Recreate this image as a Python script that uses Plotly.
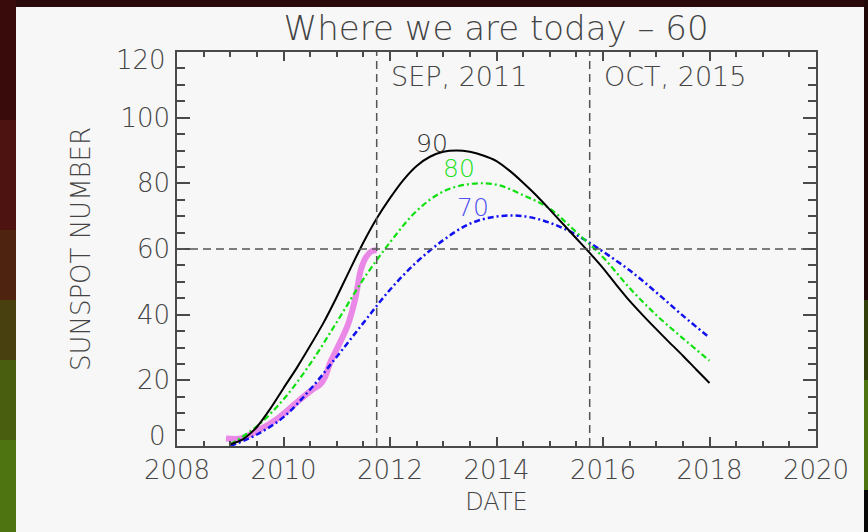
import plotly.graph_objects as go

# ---------------- data ----------------
black_x = [2009.0, 2009.25, 2009.5, 2009.75, 2010.0, 2010.25, 2010.5, 2010.75, 2011.0, 2011.25,
           2011.5, 2011.75, 2012.0, 2012.25, 2012.5, 2012.75, 2013.0, 2013.25, 2013.5, 2013.75,
           2014.0, 2014.25, 2014.5, 2014.75, 2015.0, 2015.25, 2015.5, 2015.75, 2016.0, 2016.25,
           2016.5, 2016.75, 2017.0, 2017.25, 2017.5, 2017.75, 2018.0]
black_y = [0.5, 2.2, 5.8, 11.3, 17.6, 23.8, 30.5, 37.5, 45.4, 53.8,
           62.0, 69.3, 75.5, 81.0, 85.3, 88.1, 89.6, 90.0, 89.6, 88.5,
           86.8, 83.8, 80.2, 76.3, 72.0, 67.6, 63.2, 58.8, 54.2, 49.1,
           44.2, 39.8, 35.6, 31.5, 27.5, 23.3, 19.2]

green_x = [2009.0, 2009.5, 2010.0, 2010.5, 2011.0, 2011.5, 2012.0, 2012.5, 2013.0, 2013.5,
           2014.0, 2014.5, 2015.0, 2015.5, 2016.0, 2016.5, 2017.0, 2017.5, 2018.0]
green_y = [0.5, 6.0, 14.2, 25.0, 37.7, 50.8, 62.0, 71.6, 77.5, 79.8,
           79.6, 76.4, 72.3, 65.1, 57.5, 48.1, 39.9, 32.8, 26.0]

blue_x = [2009.0, 2009.5, 2010.0, 2010.5, 2011.0, 2011.5, 2012.0, 2012.5, 2013.0, 2013.5,
          2014.0, 2014.5, 2015.0, 2015.5, 2016.0, 2016.5, 2017.0, 2017.5, 2018.0]
blue_y = [0.0, 3.5, 8.8, 17.2, 27.2, 37.5, 47.6, 56.0, 62.7, 67.7,
          69.9, 70.0, 68.0, 64.3, 59.2, 53.5, 46.8, 39.7, 33.0]

observed_x = [2008.92, 2009.2, 2009.5, 2009.9, 2010.3, 2010.55, 2010.68, 2010.78, 2010.88, 2011.0,
              2011.2, 2011.35, 2011.45, 2011.55, 2011.65, 2011.75]
observed_y = [2.3, 2.3, 4.5, 8.5, 14.0, 17.3, 18.6, 21.0, 25.5, 29.5,
              36.5, 45.0, 53.5, 57.5, 59.3, 59.6]

marker_dates = [2011.75, 2015.75]
marker_labels = ["SEP, 2011", "OCT, 2015"]
today_level = 60

curve_labels = ["90", "80", "70"]
curve_label_x = [2012.79, 2013.30, 2013.56]
curve_label_y = [92.1, 84.5, 72.7]

x_range = [2008, 2020]
y_range = [0, 120]
y_tickvals = [0, 20, 40, 60, 80, 100, 120]
y_ticktext = ["0", "20", "40", "60", "80", "100", "120"]
title_text = "Where we are today – 60"

# ---------------- style ----------------
FONT = "DejaVu Sans"
W = 200
TXT = "#444444"
PANEL = "#f7f7f7"
AX = "#4a4a4a"
TICK_SIZE = 26

fig = go.Figure()

fig.add_trace(go.Scatter(x=observed_x, y=observed_y, mode="lines",
                         line=dict(color="#ea88e8", width=6, shape="spline", smoothing=0.8),
                         showlegend=False, hoverinfo="skip"))
fig.add_trace(go.Scatter(x=blue_x, y=blue_y, mode="lines",
                         line=dict(color="#1010f0", width=2.5, dash="6px,3px,2px,3px", shape="spline"),
                         showlegend=False))
fig.add_trace(go.Scatter(x=green_x, y=green_y, mode="lines",
                         line=dict(color="#10e010", width=2.2, dash="6px,3px,2px,3px", shape="spline"),
                         showlegend=False))
fig.add_trace(go.Scatter(x=black_x, y=black_y, mode="lines",
                         line=dict(color="#000000", width=2, shape="spline", smoothing=0.8),
                         showlegend=False))

# reference dashed lines
for d in marker_dates:
    fig.add_shape(type="line", x0=d, x1=d, y0=y_range[0], y1=y_range[1],
                  xref="x", yref="y", line=dict(color="#555555", width=1.5, dash="8px,5px"),
                  layer="above")
fig.add_shape(type="line", x0=x_range[0], x1=x_range[1], y0=today_level, y1=today_level,
              xref="x", yref="y", line=dict(color="#555555", width=1.5, dash="8px,5px"),
              layer="above")

# surround decoration (pixel -> paper helpers)
def px_x(p):
    return (p - 177) / 639.0

def px_y(p):
    return (446 - p) / 394.0

left_bands = [(0, 120, "#3a0b0b"), (120, 230, "#4c1310"), (230, 300, "#4e2410"),
              (300, 360, "#48400f"), (360, 440, "#4a5e10"), (440, 532, "#4e7412")]
for y0, y1, c in left_bands:
    fig.add_shape(type="rect", xref="paper", yref="paper", x0=px_x(0), x1=px_x(16),
                  y0=px_y(y1), y1=px_y(y0), fillcolor=c, line=dict(width=0), layer="below")
right_bands = [(0, 300, "#200808"), (300, 380, "#34400c"), (380, 490, "#4e7412"), (490, 532, "#080808")]
for y0, y1, c in right_bands:
    fig.add_shape(type="rect", xref="paper", yref="paper", x0=px_x(864), x1=px_x(868),
                  y0=px_y(y1), y1=px_y(y0), fillcolor=c, line=dict(width=0), layer="below")

fig.add_shape(type="rect", xref="paper", yref="paper",
              x0=px_x(16), x1=px_x(864), y0=px_y(540), y1=px_y(7),
              fillcolor=PANEL, line=dict(width=0), layer="below")

for d, lab in zip(marker_dates, marker_labels):
    fig.add_annotation(x=d, y=112.6, xref="x", yref="y", text=lab, showarrow=False,
                       xanchor="left", yanchor="middle", xshift=12,
                       font=dict(family=FONT, size=27, color=TXT, weight=W))

label_colors = ["#333333", "#22e022", "#5050f0"]
for t, lx, ly, c in zip(curve_labels, curve_label_x, curve_label_y, label_colors):
    fig.add_annotation(x=lx, y=ly, xref="x", yref="y", text=t, showarrow=False,
                       xanchor="center", yanchor="middle",
                       font=dict(family=FONT, size=25, color=c, weight=W))

# end labels of y axis are drawn kept inside the axis span (as in the original)
shown_text = list(y_ticktext)
edge_shift = {0: 10, len(y_tickvals) - 1: -8}
for i, s in edge_shift.items():
    fig.add_annotation(x=0, xref="paper", y=y_tickvals[i], yref="y", text=y_ticktext[i],
                       showarrow=False, xanchor="right", yanchor="middle", xshift=-9, yshift=s,
                       font=dict(family=FONT, size=TICK_SIZE, color=TXT, weight=W))
    shown_text[i] = ""

axis_common = dict(showgrid=False, zeroline=False, showline=True, linecolor=AX, linewidth=1.5,
                   mirror="allticks", ticks="inside", tickcolor=AX, tickwidth=1.5,
                   tickfont=dict(family=FONT, size=TICK_SIZE, color=TXT, weight=W))

fig.update_xaxes(range=x_range, dtick=2, tick0=2008, ticklen=9,
                 minor=dict(dtick=0.5, ticks="inside", ticklen=5, tickcolor=AX, tickwidth=1.5),
                 title=dict(text="DATE", font=dict(family=FONT, size=24, color=TXT, weight=W), standoff=9),
                 **axis_common)
fig.update_yaxes(range=y_range, tickvals=y_tickvals, ticktext=shown_text, ticklen=13,
                 minor=dict(dtick=5, ticks="inside", ticklen=8, tickcolor=AX, tickwidth=1.5),
                 title=dict(text="SUNSPOT NUMBER", font=dict(family=FONT, size=26, color=TXT, weight=W), standoff=22),
                 **axis_common)

fig.update_layout(
    width=868, height=532,
    margin=dict(l=177, r=52, t=52, b=86),
    paper_bgcolor="#2a0a0a",
    plot_bgcolor=PANEL,
    title=dict(text=title_text, x=0.5715, xanchor="center", y=1 - 28 / 532, yanchor="middle",
               font=dict(family=FONT, size=34, color=TXT, weight=W)),
    showlegend=False,
)

fig.write_html("out.html", config={"displayModeBar": False},
               post_script="document.body.style.margin='0px';document.body.style.overflow='hidden';")
